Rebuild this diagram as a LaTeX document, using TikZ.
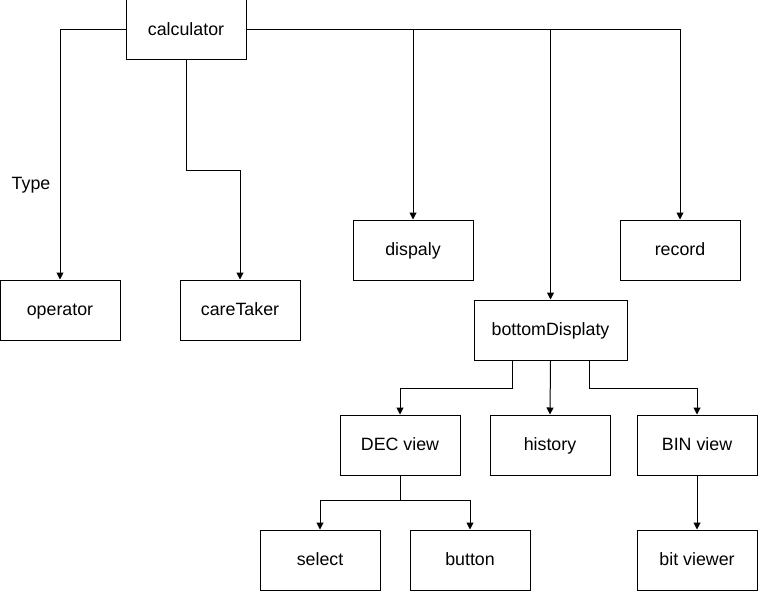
\documentclass[tikz,border=0pt]{standalone}
\usepackage{fontspec}
\setmainfont{Liberation Sans}
\usetikzlibrary{arrows.meta}
\begin{document}
\begin{tikzpicture}[x=1pt,y=-1pt,
  lbl/.style={font=\fontsize{17.8}{20}\selectfont,text height=1.06em,text depth=0pt},
  box/.style={lbl,draw=black,line width=1pt,minimum width=120pt,minimum height=60pt,inner sep=0pt,anchor=center},
  conn/.style={draw=black,line width=1pt,-{Triangle[length=7pt,width=7pt]}}]
\useasboundingbox (0,0) rectangle (759,591);
\node[box] (calc) at (186,30) {calculator};
\node[box] (op) at (60,310) {operator};
\node[box] (care) at (240,310) {careTaker};
\node[box] (disp) at (413,250) {dispaly};
\node[box] (rec) at (680,250) {record};
\node[box,minimum width=153pt] (bot) at (550.5,330) {bottomDisplaty};
\node[box] (dec) at (400,445) {DEC view};
\node[box] (hist) at (550,445) {history};
\node[box] (bin) at (697,445) {BIN view};
\node[box] (sel) at (320,560) {select};
\node[box] (btn) at (470,560) {button};
\node[box] (bit) at (697,560) {bit viewer};
\node[lbl,inner sep=0pt] (type) at (31,184) {Type};
% calculator edges
\draw[conn] (calc.west) -| (op.north);
\draw[conn] (calc.south) -- (186,170) -| (care.north);
\draw[conn] (calc.east) -| (disp.north);
\draw[conn] (calc.east) -| (bot.north);
\draw[conn] (calc.east) -| (rec.north);
% bottomDisplaty edges
\coordinate (b1) at (512,360);
\coordinate (b3) at (589,360);
\draw[conn] (b1) -- (512,388) -| (dec.north);
\draw[conn] (bot.south) -- (hist.north);
\draw[conn] (b3) -- (589,388) -| (bin.north);
% DEC view edges
\draw[conn] (dec.south) -- (400,500) -| (sel.north);
\draw[conn] (dec.south) -- (400,500) -| (btn.north);
% BIN view
\draw[conn] (bin.south) -- (bit.north);
\end{tikzpicture}
\end{document}
